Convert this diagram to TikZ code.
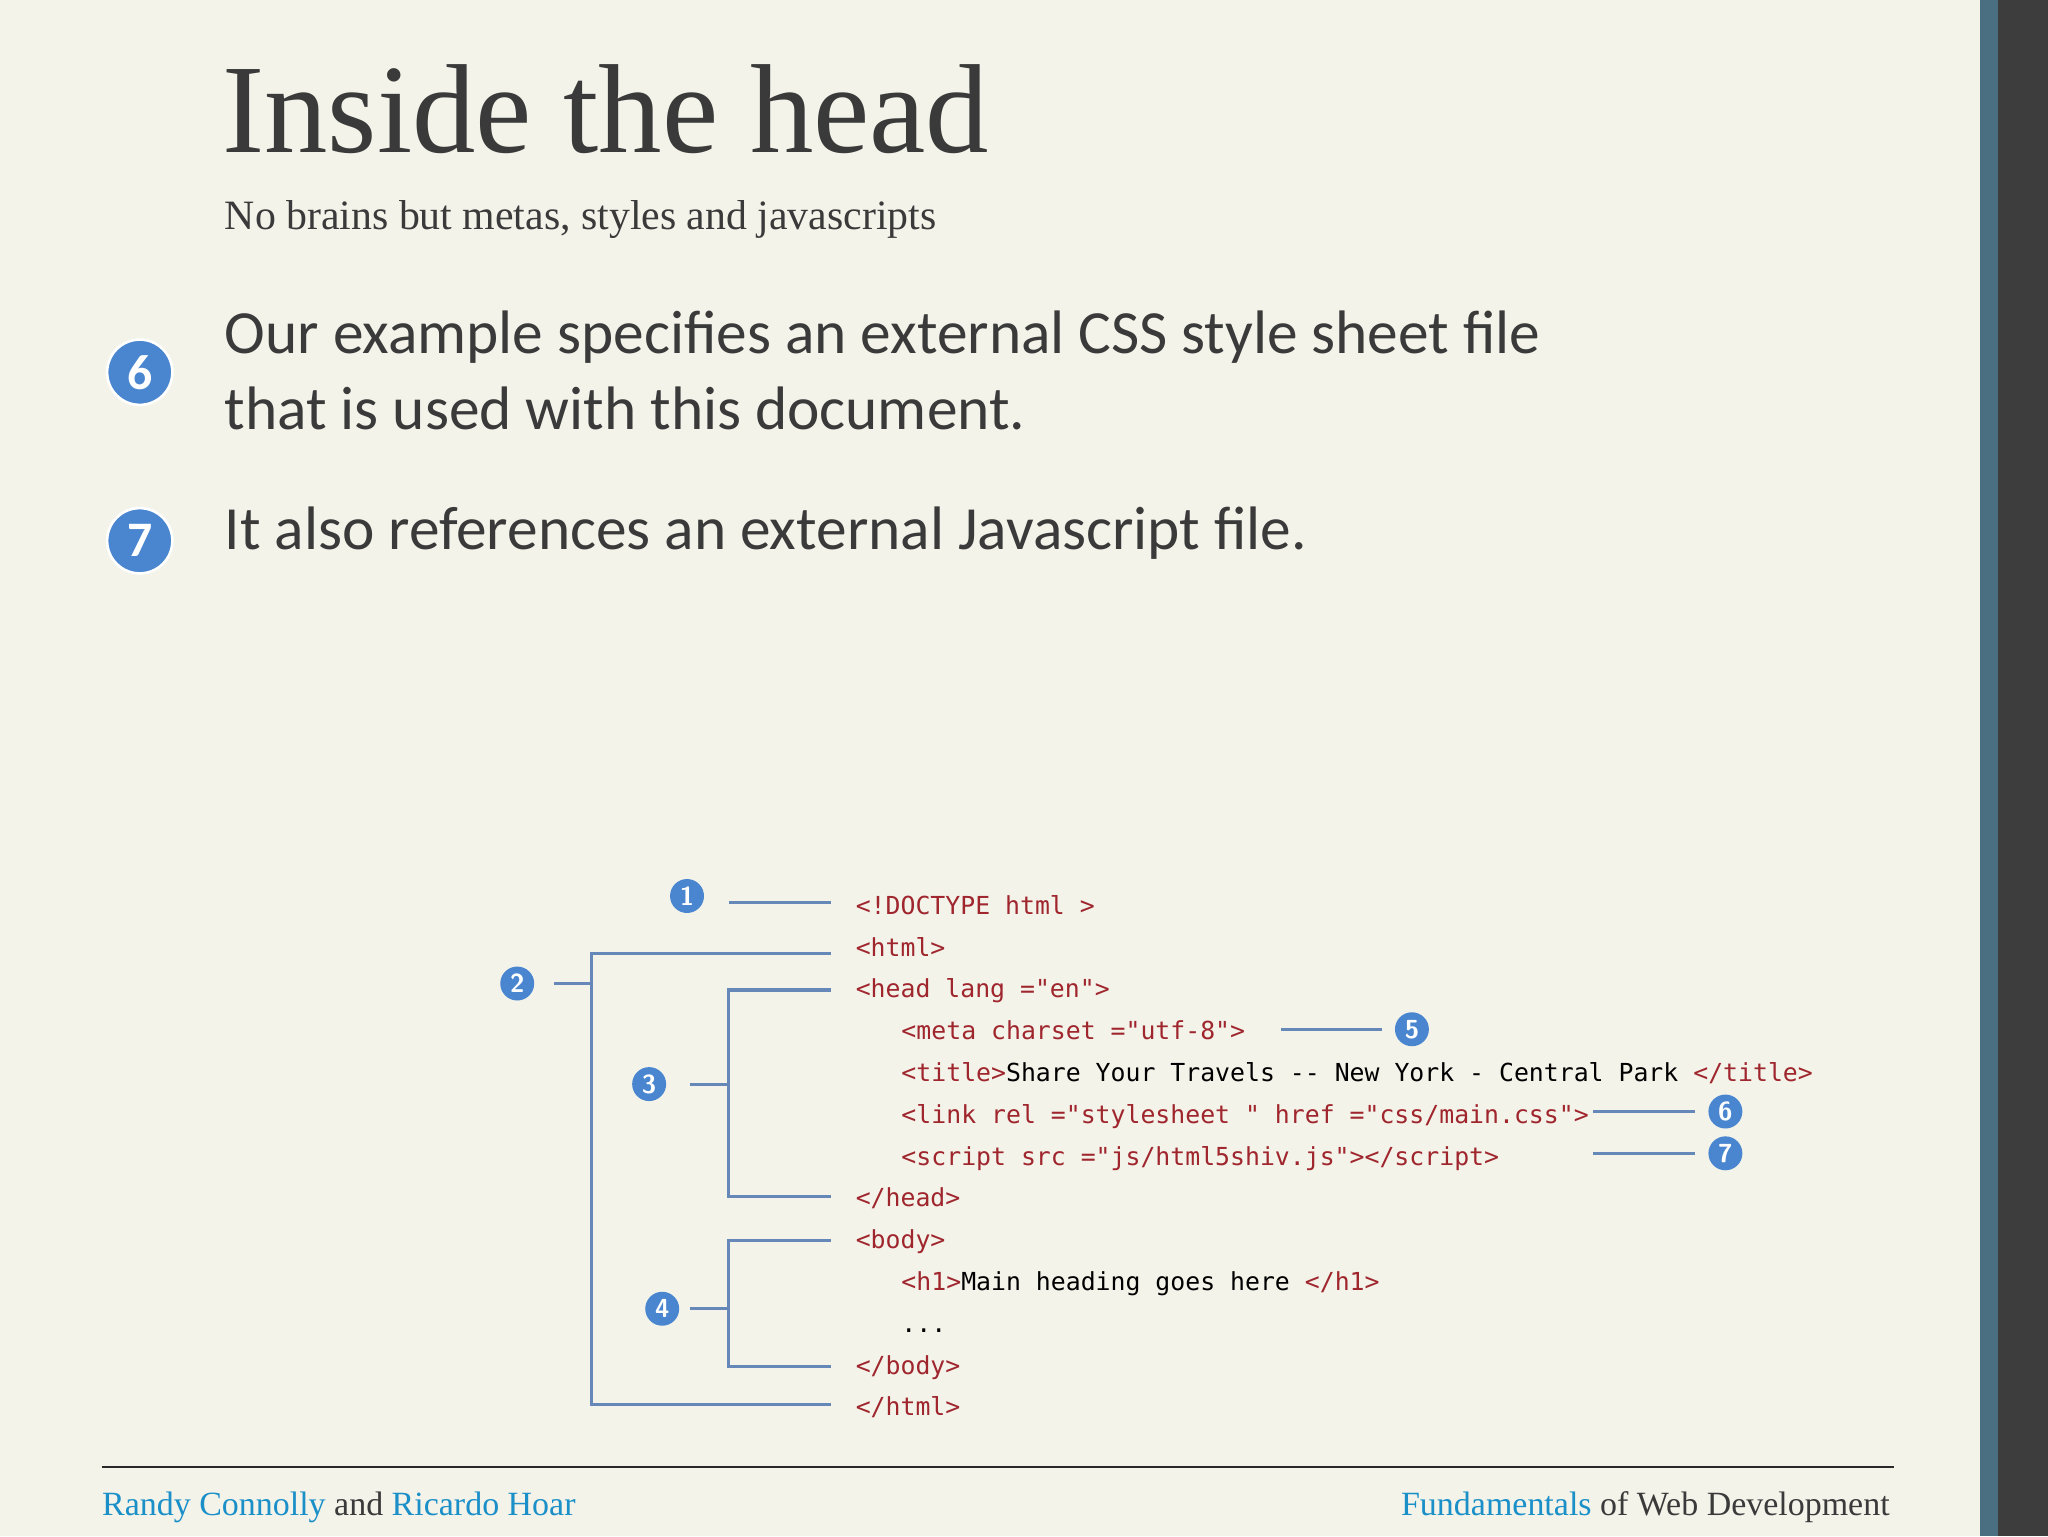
\documentclass[tikz,border=0pt]{standalone}
\usepackage{fontspec}
\setmainfont{Liberation Serif}
\newfontfamily\bodyf{Carlito}
\newfontfamily\codef{DejaVu Sans Mono}
\definecolor{bg}{HTML}{F3F3EA}
\definecolor{tagc}{HTML}{A0262E}
\definecolor{lnc}{HTML}{6688B8}
\definecolor{bub}{HTML}{4A86D0}
\definecolor{foot}{HTML}{1A8FC8}
\definecolor{titc}{HTML}{3A3A3A}
\definecolor{teal}{HTML}{4A6F80}
\definecolor{dbar}{HTML}{3D3D3D}
\definecolor{fline}{HTML}{282828}
\begin{document}
\begin{tikzpicture}[x=1pt,y=-1pt,
  code/.style={anchor=base west,inner sep=0pt,font=\codef\fontsize{19}{19}\selectfont,text=black},
  bbl/.style={circle,fill=bub,text=white,inner sep=0pt,minimum size=26pt,font=\sffamily\bfseries\fontsize{20}{20}\selectfont},
  bigbbl/.style={circle,fill=bub,draw=white,line width=2pt,text=white,inner sep=0pt,minimum size=50pt,font=\bodyf\bfseries\fontsize{38}{38}\selectfont},
  br/.style={draw=lnc,line width=2.4pt},
  body/.style={anchor=base west,inner sep=0pt,font=\bodyf\fontsize{47}{56}\selectfont,text=titc,align=left}]
\fill[bg] (0,0) rectangle (1568,1176);
\fill[teal] (1516,0) rectangle (1530,1176);
\fill[dbar] (1530,0) rectangle (1568,1176);
\node[anchor=base west,inner sep=0pt,font=\fontsize{97}{97}\selectfont,text=titc] (title) at (170,117) {Inside the head};
\node[anchor=base west,inner sep=0pt,font=\fontsize{32}{32}\selectfont,text=titc] (sub) at (172,176) {No brains but metas, styles and javascripts};
\node[bigbbl] (b6big) at (107,285) {6};
\node[body] (t6) at (172,271) {Our example specifies an external CSS style sheet file};
\node[body] (t6b) at (172,329) {that is used with this document.};
\node[bigbbl] (b7big) at (107,414) {7};
\node[body] (t7) at (172,421) {It also references an external Javascript file.};
% code
\node[code] (l1) at (655,700) {\color{tagc}<!DOCTYPE html >};
\node[code] (l2) at (655,732) {\color{tagc}<html>};
\node[code] (l3) at (655,764) {\color{tagc}<head lang ="en">};
\node[code] (l4) at (690,796) {\color{tagc}<meta charset ="utf-8">};
\node[code] (l5) at (690,828) {{\color{tagc}<title>}Share Your Travels -- New York - Central Park {\color{tagc}</title>}};
\node[code] (l6) at (690,860) {\color{tagc}<link rel ="stylesheet " href ="css/main.css">};
\node[code] (l7) at (690,892) {\color{tagc}<script src ="js/html5shiv.js"></script>};
\node[code] (l8) at (655,924) {\color{tagc}</head>};
\node[code] (l9) at (655,956) {\color{tagc}<body>};
\node[code] (l10) at (690,988) {{\color{tagc}<h1>}Main heading goes here {\color{tagc}</h1>}};
\node[code] (l11) at (690,1020) {...};
\node[code] (l12) at (655,1052) {\color{tagc}</body>};
\node[code] (l13) at (655,1084) {\color{tagc}</html>};
% bubbles
\node[bbl] (n1) at (526,686) {1};
\node[bbl] (n2) at (396,753) {2};
\node[bbl] (n3) at (497,830) {3};
\node[bbl] (n4) at (507,1002) {4};
\node[bbl] (n5) at (1081,788) {5};
\node[bbl] (n6) at (1321,851) {6};
\node[bbl] (n7) at (1321,883) {7};
\draw[br] (558,691) -- (636,691);
\draw[br] (424,753) -- (453,753);
\draw[br] (636,730) -- (453,730) -- (453,1075) -- (636,1075);
\draw[br] (528,830) -- (558,830);
\draw[br] (636,758) -- (558,758) -- (558,916) -- (636,916);
\draw[br] (528,1002) -- (558,1002);
\draw[br] (636,950) -- (558,950) -- (558,1046) -- (636,1046);
\draw[br] (981,788) -- (1058,788);
\draw[br] (1220,851) -- (1298,851);
\draw[br] (1220,883) -- (1298,883);
% footer
\draw[line width=1.5pt,fline] (78,1123) -- (1450,1123);
\node[anchor=base west,inner sep=0pt,font=\fontsize{26}{26}\selectfont,text=titc] (fl) at (78,1160) {{\color{foot}Randy Connolly}\ and {\color{foot}Ricardo Hoar}};
\node[anchor=base east,inner sep=0pt,font=\fontsize{26}{26}\selectfont,text=titc] (fr) at (1447,1160) {{\color{foot}Fundamentals}\ of Web Development};
\end{tikzpicture}
\end{document}
